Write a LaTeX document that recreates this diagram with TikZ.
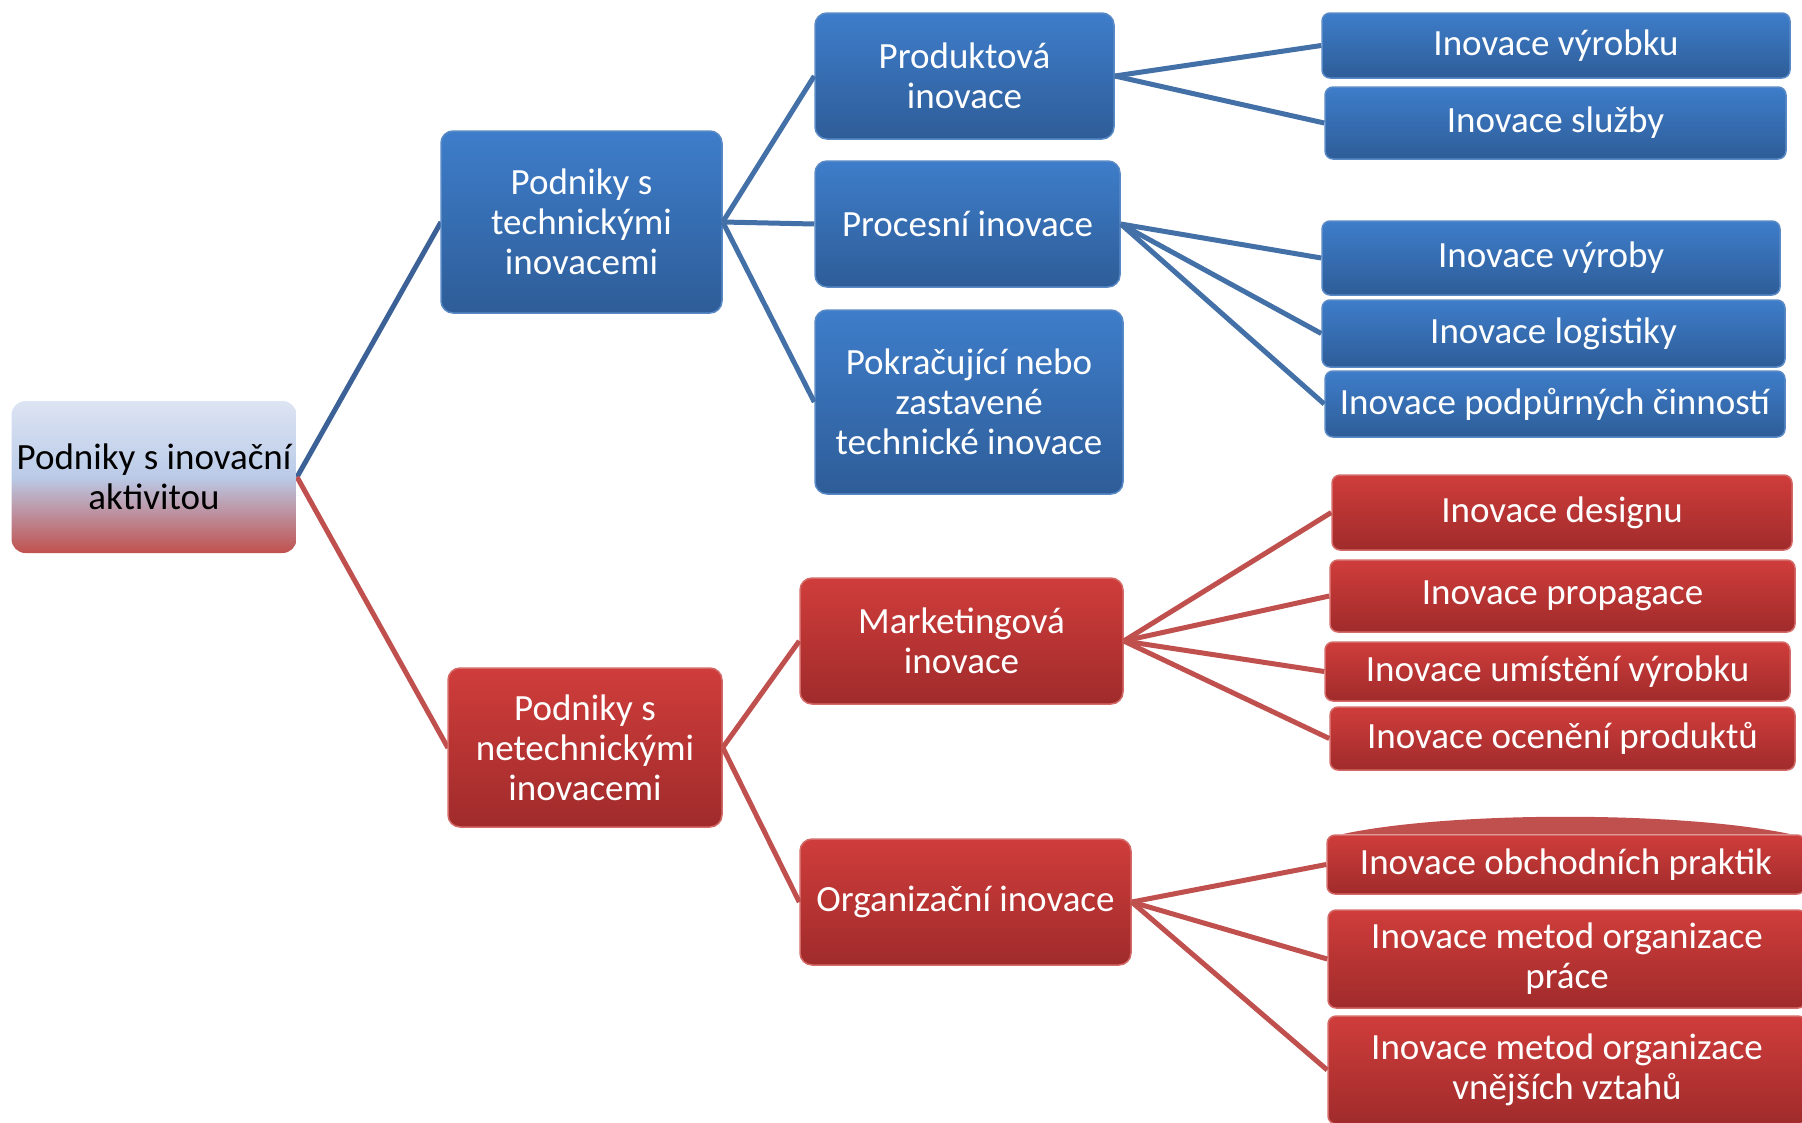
\documentclass[tikz,border=0pt]{standalone}
\usepackage{fontspec}
\setmainfont{Carlito}
\definecolor{blT}{HTML}{3E7DCA}
\definecolor{blB}{HTML}{2E5D98}
\definecolor{blE}{HTML}{5A8AC6}
\definecolor{rdT}{HTML}{CF3D3B}
\definecolor{rdB}{HTML}{A02B2B}
\definecolor{rdE}{HTML}{D46A68}
\definecolor{blL}{HTML}{4470A8}
\definecolor{blD}{HTML}{3B6196}
\definecolor{rdL}{HTML}{C0504D}
\definecolor{rtT}{HTML}{DDE4F3}
\definecolor{rtM}{HTML}{BACBE8}
\definecolor{rtB}{HTML}{C0504D}
\begin{document}
\begin{tikzpicture}[x=1pt,y=-1pt,
  every node/.style={font=\fontsize{37}{40}\selectfont, align=center, inner sep=0pt},
  bluebox/.style={rectangle, rounded corners=12pt, top color=blT, bottom color=blB, draw=blE, line width=1.5pt, text=white},
  redbox/.style={rectangle, rounded corners=12pt, top color=rdT, bottom color=rdB, draw=rdE, line width=1.5pt, text=white},
  smallbox/.style={rounded corners=8pt},
  rootbox/.style={rectangle, rounded corners=14pt, top color=rtT, bottom color=rtB, middle color=rtM, draw=none, text=black},
  bline/.style={draw=blL, line width=5pt},
  rline/.style={draw=rdL, line width=5pt}]
\useasboundingbox (0,0) rectangle (1802,1122);
% connectors
\coordinate (rootR) at (297,477);
\coordinate (techL) at (441,222);
\coordinate (netL) at (448,748);
\draw[draw=blD, line width=5pt] (rootR) -- (techL);
\draw[rline] (rootR) -- (netL);
% nodes
\node[rootbox, minimum width=285pt, minimum height=152pt] (root) at (154,477) {Podniky s inovační\\aktivitou};
\node[bluebox, minimum width=281pt, minimum height=182pt] (tech) at (581.5,222) {Podniky s\\technickými\\inovacemi};
\node[bluebox, minimum width=299pt, minimum height=126pt] (prod) at (964.5,76) {Produktová\\inovace};
\node[bluebox, minimum width=305pt, minimum height=126pt] (proc) at (967.5,224) {Procesní inovace};
\node[bluebox, minimum width=308pt, minimum height=184pt] (pokr) at (969,402) {Pokračující nebo\\zastavené\\technické inovace};
\node[bluebox, smallbox, minimum width=468pt, minimum height=65pt] (vyrobku) at (1556,45.5) {Inovace výrobku};
\node[bluebox, smallbox, minimum width=461pt, minimum height=72pt] (sluzby) at (1555.5,123) {Inovace služby};
\node[bluebox, smallbox, minimum width=458pt, minimum height=74pt] (vyroby) at (1551,258) {Inovace výroby};
\node[bluebox, smallbox, minimum width=463pt, minimum height=67pt] (logist) at (1553.5,333.5) {Inovace logistiky};
\node[bluebox, smallbox, minimum width=460pt, minimum height=66pt] (podp) at (1555,404) {Inovace podpůrných činností};
\node[redbox, minimum width=274pt, minimum height=159pt] (netech) at (585,747.5) {Podniky s\\netechnickými\\inovacemi};
\node[redbox, minimum width=323pt, minimum height=126pt] (mark) at (961.5,641) {Marketingová\\inovace};
\node[redbox, minimum width=331pt, minimum height=126pt] (org) at (965.5,902) {Organizační inovace};
\node[redbox, smallbox, minimum width=460pt, minimum height=75pt] (design) at (1562,512.5) {Inovace designu};
\node[redbox, smallbox, minimum width=465pt, minimum height=72pt] (propag) at (1562.5,596) {Inovace propagace};
\node[redbox, smallbox, minimum width=465pt, minimum height=59pt] (umist) at (1557.5,671.5) {Inovace umístění výrobku};
\node[redbox, smallbox, minimum width=465pt, minimum height=63pt] (ocen) at (1562.5,738.5) {Inovace ocenění produktů};
\fill[rdL] (1343,834) .. controls (1450,811) and (1680,811) .. (1790,834) -- cycle;
\node[redbox, smallbox, minimum width=478pt, minimum height=59pt] (obch) at (1566,864.5) {Inovace obchodních praktik};
\node[redbox, smallbox, minimum width=478pt, minimum height=98pt] (prace) at (1567,959) {Inovace metod organizace\\práce};
\node[redbox, smallbox, minimum width=478pt, minimum height=108pt] (vztahu) at (1567,1070) {Inovace metod organizace\\vnějších vztahů};
% connectors between nodes
\draw[bline] (tech.east) -- (prod.west);
\draw[bline] (tech.east) -- (proc.west);
\draw[bline] (tech.east) -- (pokr.west);
\draw[bline] (prod.east) -- (vyrobku.west);
\draw[bline] (prod.east) -- (sluzby.west);
\draw[bline] (proc.east) -- (vyroby.west);
\draw[bline] (proc.east) -- (logist.west);
\draw[bline] (proc.east) -- (podp.west);
\draw[rline] (netech.east) -- (mark.west);
\draw[rline] (netech.east) -- (org.west);
\draw[rline] (mark.east) -- (design.west);
\draw[rline] (mark.east) -- (propag.west);
\draw[rline] (mark.east) -- (umist.west);
\draw[rline] (mark.east) -- (ocen.west);
\draw[rline] (org.east) -- (obch.west);
\draw[rline] (org.east) -- (prace.west);
\draw[rline] (org.east) -- (vztahu.west);
\end{tikzpicture}
\end{document}
